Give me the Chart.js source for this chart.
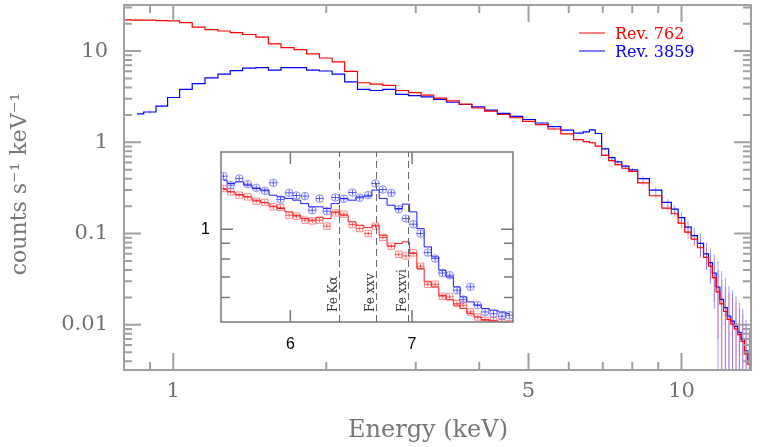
<!DOCTYPE html>
<html>
<head>
<meta charset="utf-8">
<script src="https://cdn.jsdelivr.net/npm/chart.js@4.4.0/dist/chart.umd.min.js"></script>
<style>
  html, body { margin: 0; padding: 0; background: #fff; }
  #wrap { position: relative; width: 760px; height: 447px; }
  #mainChart { position: absolute; left: 0; top: 0; }
  #insetChart { position: absolute; left: 190px; top: 145px; }
</style>
</head>
<body>
<div id="wrap">
  <canvas id="mainChart" width="760" height="447"></canvas>
  <canvas id="insetChart" width="330" height="215"></canvas>
</div>
<script>
// broad band spectrum, keV
const mainEnergy = [0.80, 0.85, 0.90, 0.95, 1.00, 1.06, 1.12, 1.19, 1.26, 1.33,
  1.41, 1.50, 1.58, 1.68, 1.78, 1.88, 2.00, 2.11, 2.24, 2.37,
  2.51, 2.66, 2.82, 2.99, 3.16, 3.35, 3.55, 3.76, 3.98, 4.22,
  4.47, 4.73, 5.01, 5.31, 5.62, 5.96, 6.31, 6.50, 6.68, 6.85,
  7.08, 7.30, 7.50, 7.76, 8.00, 8.40, 8.90, 9.40,
  9.7, 10.0, 10.3, 10.6, 10.9, 11.2, 11.4, 11.6, 11.8, 12.0,
  12.2, 12.4, 12.6, 12.8, 13.0, 13.2, 13.4, 13.6];

const rev762Flux = [22.0, 21.9, 21.8, 21.6, 21.4, 20.5, 18.3, 17.2, 16.6, 15.9,
  15.2, 14.2, 12.0, 10.9, 10.4, 9.3, 8.4, 7.6, 6.0, 4.5,
  4.35, 4.2, 3.7, 3.5, 3.3, 3.05, 2.85, 2.62, 2.38, 2.20,
  2.02, 1.86, 1.70, 1.56, 1.40, 1.24, 1.07, 1.02, 0.99, 0.91,
  0.72, 0.63, 0.57, 0.52, 0.48, 0.36, 0.26, 0.19,
  0.165, 0.13, 0.104, 0.087, 0.070, 0.055, 0.044, 0.033, 0.023, 0.017,
  0.014, 0.0115, 0.0102, 0.0090, 0.0078, 0.0066, 0.0048, 0.0037];
const rev762Err = [0.25, 0.2, 0.2, 0.2, 0.2, 0.2, 0.18, 0.17, 0.16, 0.15,
  0.15, 0.14, 0.12, 0.11, 0.1, 0.09, 0.08, 0.08, 0.06, 0.05,
  0.05, 0.04, 0.04, 0.04, 0.04, 0.035, 0.035, 0.03, 0.03, 0.03,
  0.03, 0.03, 0.03, 0.03, 0.03, 0.03, 0.03, 0.03, 0.03, 0.03,
  0.025, 0.025, 0.02, 0.02, 0.02, 0.02, 0.018, 0.016,
  0.015, 0.016, 0.016, 0.015, 0.016, 0.015, 0.014, 0.015, 0.016, 0.014,
  0.012, 0.011, 0.01, 0.0085, 0.0075, 0.0065, 0.005, 0.0045];

const rev3859Flux = [null, 2.05, 2.15, 2.5, 3.1, 3.8, 4.4, 5.1, 5.6, 6.1,
  6.5, 6.6, 6.2, 6.6, 6.6, 6.2, 6.05, 5.6, 4.6, 3.8,
  3.7, 3.8, 3.35, 3.25, 3.15, 2.95, 2.75, 2.6, 2.45, 2.25,
  2.08, 1.93, 1.78, 1.63, 1.49, 1.36, 1.26, 1.30, 1.37, 1.25,
  0.85, 0.68, 0.61, 0.55, 0.50, 0.40, 0.30, 0.22,
  0.185, 0.15, 0.118, 0.095, 0.078, 0.06, 0.048, 0.037, 0.026, 0.019,
  0.0155, 0.0125, 0.011, 0.0096, 0.0083, 0.007, 0.0052, 0.004];
const rev3859Err = [0, 0.08, 0.08, 0.08, 0.08, 0.09, 0.09, 0.09, 0.09, 0.09,
  0.09, 0.09, 0.09, 0.09, 0.09, 0.08, 0.08, 0.08, 0.07, 0.06,
  0.06, 0.05, 0.05, 0.05, 0.05, 0.04, 0.04, 0.04, 0.04, 0.04,
  0.035, 0.035, 0.035, 0.035, 0.035, 0.035, 0.035, 0.035, 0.035, 0.035,
  0.03, 0.03, 0.025, 0.025, 0.025, 0.025, 0.022, 0.02,
  0.02, 0.022, 0.02, 0.02, 0.022, 0.02, 0.02, 0.022, 0.024, 0.02,
  0.017, 0.014, 0.013, 0.011, 0.009, 0.008, 0.006, 0.005];

// iron line region (inset)
const insetEnergy = [5.45, 5.51, 5.58, 5.65, 5.72, 5.79, 5.86, 5.92, 5.99, 6.05,
  6.12, 6.18, 6.24, 6.30, 6.37, 6.44, 6.51, 6.57, 6.64, 6.70,
  6.76, 6.83, 6.89, 6.95, 7.01, 7.07, 7.13, 7.19, 7.25, 7.31,
  7.37, 7.42, 7.48, 7.54, 7.60, 7.67, 7.74, 7.80];
const rev3859InsetData = [1.486, 1.390, 1.461, 1.400, 1.362, 1.332, 1.414, 1.248, 1.312, 1.286,
  1.280, 1.152, 1.258, 1.144, 1.267, 1.255, 1.315, 1.264, 1.289, 1.407,
  1.345, 1.312, 1.161, 1.083, 1.038, 0.968, 0.840, 0.803, 0.721, 0.709,
  0.634, 0.591, 0.650, 0.567, 0.539, 0.532, 0.522, 0.526];
const rev3859InsetModel = [1.442, 1.407, 1.424, 1.390, 1.355, 1.339, 1.289, 1.273, 1.258, 1.242,
  1.211, 1.182, 1.182, 1.167, 1.211, 1.258, 1.242, 1.273, 1.280, 1.339,
  1.258, 1.196, 1.167, 1.206, 1.138, 1.005, 0.876, 0.813, 0.736, 0.700,
  0.650, 0.603, 0.581, 0.567, 0.553, 0.546, 0.539, 0.532];
const rev762InsetData = [1.355, 1.322, 1.289, 1.273, 1.233, 1.221, 1.182, 1.176, 1.110, 1.102,
  1.070, 1.064, 1.070, 1.023, 1.130, 1.119, 1.035, 1.005, 0.968, 1.023,
  0.940, 0.881, 0.829, 0.819, 0.838, 0.758, 0.663, 0.663, 0.606, 0.603,
  0.574, 0.567, 0.539, 0.519, 0.506, 0.506, 0.500, 0.494];
const rev762InsetModel = [1.345, 1.322, 1.296, 1.273, 1.242, 1.218, 1.188, 1.167, 1.138, 1.110,
  1.083, 1.070, 1.091, 1.083, 1.138, 1.110, 1.056, 1.030, 1.012, 1.030,
  0.956, 0.881, 0.899, 0.910, 0.834, 0.745, 0.675, 0.650, 0.610, 0.591,
  0.567, 0.553, 0.532, 0.519, 0.509, 0.504, 0.497, 0.494];
const insetHalfBin = 0.033;
const insetRelErr = 0.022;

const lineEnergies = [6.4, 6.7, 6.97];
const lineLabels = ['Fe Kα', 'Fe xxv', 'Fe xxvi'];

// ticks
const xLabelValues = [1, 5, 10];
const xMinorTicks = [0.9, 2, 3, 4, 6, 7, 8, 9];
const yLabelValues = [0.01, 0.1, 1, 10];
const yMinorTicks = [0.004, 0.005, 0.006, 0.007, 0.008, 0.009,
  0.02, 0.03, 0.04, 0.05, 0.06, 0.07, 0.08, 0.09,
  0.2, 0.3, 0.4, 0.5, 0.6, 0.7, 0.8, 0.9,
  2, 3, 4, 5, 6, 7, 8, 9, 20, 30];
const insetXTicks = [6, 7];
const insetYLabels = [1];
const insetYMinor = [0.6, 0.7, 0.8, 0.9];

const RED = '#ff0000';
const BLUE = '#0000ff';
const SERIF = '"DejaVu Serif", serif';
const SANS = '"Liberation Sans", sans-serif';

function pairs(xs, ys) {
  return xs.map((x, i) => ({ x: x, y: ys[i] }));
}

// frame with inward ticks on all four sides
const frameTicks = {
  id: 'frameTicks',
  afterDatasetsDraw(chart, args, o) {
    const { ctx, chartArea: a, scales: { x, y } } = chart;
    ctx.save();
    ctx.strokeStyle = o.color;
    ctx.lineWidth = o.width;
    ctx.beginPath();
    const xt = (list, len) => list.forEach(v => {
      const px = x.getPixelForValue(v);
      ctx.moveTo(px, a.bottom); ctx.lineTo(px, a.bottom - len);
      ctx.moveTo(px, a.top); ctx.lineTo(px, a.top + len);
    });
    const yt = (list, len) => list.forEach(v => {
      const py = y.getPixelForValue(v);
      ctx.moveTo(a.left, py); ctx.lineTo(a.left + len, py);
      ctx.moveTo(a.right, py); ctx.lineTo(a.right - len, py);
    });
    xt(o.xMajor, o.majorLen); xt(o.xMinor, o.minorLen);
    yt(o.yMajor, o.majorLen); yt(o.yMinor, o.minorLen);
    ctx.stroke();
    ctx.strokeRect(a.left, a.top, a.right - a.left, a.bottom - a.top);
    ctx.restore();
  }
};

// error crosses from dataset.yErr / relErr / xHalf
const errorBars = {
  id: 'errorBars',
  beforeDatasetsDraw(chart) {
    const { ctx, chartArea: a, scales: { x, y } } = chart;
    ctx.save();
    ctx.beginPath();
    ctx.rect(a.left, a.top, a.right - a.left, a.bottom - a.top);
    ctx.clip();
    chart.data.datasets.forEach(ds => {
      if (!ds.yErr && !ds.relErr) return;
      ctx.strokeStyle = ds.errColor;
      ctx.lineWidth = 1;
      ctx.beginPath();
      ds.data.forEach((p, i) => {
        if (p.y == null) return;
        const err = ds.yErr ? ds.yErr[i] : p.y * ds.relErr;
        const px = x.getPixelForValue(p.x);
        const lo = p.y - err;
        const yLo = lo > 0 ? y.getPixelForValue(lo) : a.bottom;
        const yHi = y.getPixelForValue(p.y + err);
        ctx.moveTo(px, yLo); ctx.lineTo(px, yHi);
        if (ds.xHalf) {
          const py = y.getPixelForValue(p.y);
          ctx.moveTo(x.getPixelForValue(p.x - ds.xHalf), py);
          ctx.lineTo(x.getPixelForValue(p.x + ds.xHalf), py);
        }
      });
      ctx.stroke();
    });
    ctx.restore();
  }
};

const legendBox = {
  id: 'legendBox',
  afterDraw(chart, args, o) {
    const { ctx, chartArea: a } = chart;
    ctx.save();
    ctx.font = o.font;
    ctx.textBaseline = 'middle';
    chart.data.datasets.forEach((ds, i) => {
      const y = a.top + o.top + i * o.rowGap;
      const x0 = a.right - o.right;
      ctx.strokeStyle = ds.borderColor;
      ctx.lineWidth = 1;
      ctx.beginPath();
      ctx.moveTo(x0, y); ctx.lineTo(x0 + o.lineLen, y);
      ctx.stroke();
      ctx.fillStyle = ds.borderColor;
      ctx.fillText(ds.label, x0 + o.lineLen + o.gap, y + 2);
    });
    ctx.restore();
  }
};

const axisTitles = {
  id: 'axisTitles',
  afterDraw(chart, args, o) {
    const ctx = chart.ctx;
    ctx.save();
    ctx.fillStyle = o.color;
    ctx.textAlign = 'center';
    ctx.font = o.xFont;
    ctx.textBaseline = 'middle';
    ctx.fillText(o.xText, o.xPos[0], o.xPos[1]);
    ctx.font = o.yFont;
    ctx.textBaseline = 'alphabetic';
    ctx.translate(o.yPos[0], o.yPos[1]);
    ctx.rotate(-Math.PI / 2);
    ctx.fillText(o.yText, 0, 0);
    ctx.restore();
  }
};

const whiteArea = {
  id: 'whiteArea',
  beforeDraw(chart) {
    const { ctx, chartArea: a } = chart;
    ctx.save();
    ctx.fillStyle = '#fff';
    ctx.fillRect(a.left, a.top, a.right - a.left, a.bottom - a.top);
    ctx.restore();
  }
};

const lineMarks = {
  id: 'lineMarks',
  afterDatasetsDraw(chart, args, o) {
    const { ctx, chartArea: a, scales: { x } } = chart;
    ctx.save();
    ctx.strokeStyle = o.color;
    ctx.lineWidth = 1;
    ctx.setLineDash([7, 4]);
    o.energies.forEach((e, i) => {
      const px = Math.round(x.getPixelForValue(e)) + 0.5;
      ctx.beginPath();
      ctx.moveTo(px, a.bottom); ctx.lineTo(px, a.top);
      ctx.stroke();
      ctx.save();
      ctx.translate(px - 3, a.bottom - 10);
      ctx.rotate(-Math.PI / 2);
      ctx.fillStyle = o.textColor;
      ctx.font = o.font;
      ctx.textAlign = 'left';
      ctx.textBaseline = 'alphabetic';
      ctx.fillText(o.labels[i], 0, 0);
      ctx.restore();
    });
    ctx.restore();
  }
};

// the frame is drawn by frameTicks, so drop the label-based padding
function fixWidth(w) {
  return s => { s.width = w; s.paddingTop = 0; s.paddingBottom = 0; };
}
function fixHeight(h) {
  return s => { s.height = h; s.paddingLeft = 0; s.paddingRight = 0; };
}

const mainChart = new Chart(document.getElementById('mainChart'), {
  type: 'line',
  data: {
    datasets: [
      {
        label: 'Rev. 762', data: pairs(mainEnergy, rev762Flux), yErr: rev762Err,
        borderColor: RED, errColor: 'rgba(255,80,80,0.55)', borderWidth: 1.2,
        pointRadius: 0, stepped: 'middle', fill: false
      },
      {
        label: 'Rev. 3859', data: pairs(mainEnergy, rev3859Flux), yErr: rev3859Err,
        borderColor: BLUE, errColor: 'rgba(80,80,255,0.55)', borderWidth: 1.2,
        pointRadius: 0, stepped: 'middle', fill: false, spanGaps: false
      }
    ]
  },
  options: {
    responsive: false,
    animation: false,
    devicePixelRatio: 1,
    layout: { padding: { top: 5, right: 9, left: 0, bottom: 0 } },
    plugins: {
      legend: { display: false },
      tooltip: { enabled: false },
      frameTicks: {
        color: '#a0a0a0', width: 2, majorLen: 17, minorLen: 8,
        xMajor: xLabelValues, xMinor: xMinorTicks, yMajor: yLabelValues, yMinor: yMinorTicks
      },
      legendBox: { font: '16px ' + SERIF, top: 28, rowGap: 18, right: 172, lineLen: 26, gap: 10 },
      axisTitles: {
        color: '#777', xText: 'Energy (keV)', xFont: '24px ' + SERIF, xPos: [428, 431],
        yText: 'counts s⁻¹ keV⁻¹', yFont: '22px ' + SERIF, yPos: [26, 184]
      }
    },
    scales: {
      x: {
        type: 'logarithmic', min: 0.8, max: 13.7,
        grid: { display: false, drawTicks: false }, border: { display: false },
        afterBuildTicks: s => { s.ticks = xLabelValues.map(v => ({ value: v })); },
        afterFit: fixHeight(77),
        ticks: {
          color: '#707070', font: { family: SERIF, size: 21 }, padding: 9,
          maxRotation: 0, autoSkip: false, callback: v => String(v)
        }
      },
      y: {
        type: 'logarithmic', min: 0.0032, max: 32,
        grid: { display: false, drawTicks: false }, border: { display: false },
        afterBuildTicks: s => { s.ticks = yLabelValues.map(v => ({ value: v })); },
        afterFit: fixWidth(124),
        ticks: {
          color: '#707070', font: { family: SERIF, size: 21 }, padding: 16,
          autoSkip: false, callback: v => String(v)
        }
      }
    }
  },
  plugins: [errorBars, frameTicks, legendBox, axisTitles]
});

const insetChart = new Chart(document.getElementById('insetChart'), {
  type: 'line',
  data: {
    datasets: [
      {
        label: 'Rev. 3859 data', data: pairs(insetEnergy, rev3859InsetData), showLine: false,
        relErr: insetRelErr, xHalf: insetHalfBin, errColor: 'rgba(40,40,255,0.75)',
        pointStyle: 'circle', pointRadius: 3.8, pointBorderWidth: 1,
        pointBorderColor: 'rgba(60,60,255,0.6)', pointBackgroundColor: 'rgba(0,0,0,0)'
      },
      {
        label: 'Rev. 762 data', data: pairs(insetEnergy, rev762InsetData), showLine: false,
        relErr: insetRelErr * 0.7, xHalf: insetHalfBin, errColor: 'rgba(255,40,40,0.75)',
        pointStyle: 'rect', pointRadius: 4.5, pointBorderWidth: 1,
        pointBorderColor: 'rgba(255,60,60,0.6)', pointBackgroundColor: 'rgba(0,0,0,0)'
      },
      {
        label: 'Rev. 3859 model', data: pairs(insetEnergy, rev3859InsetModel),
        borderColor: '#1a1aff', borderWidth: 1, pointRadius: 0, stepped: 'middle'
      },
      {
        label: 'Rev. 762 model', data: pairs(insetEnergy, rev762InsetModel),
        borderColor: '#ff1a1a', borderWidth: 1, pointRadius: 0, stepped: 'middle'
      }
    ]
  },
  options: {
    responsive: false,
    animation: false,
    devicePixelRatio: 1,
    layout: { padding: { top: 7, right: 7, left: 0, bottom: 0 } },
    plugins: {
      legend: { display: false },
      tooltip: { enabled: false },
      frameTicks: {
        color: '#777', width: 1.5, majorLen: 12, minorLen: 9,
        xMajor: insetXTicks, xMinor: [], yMajor: insetYLabels, yMinor: insetYMinor
      },
      lineMarks: {
        energies: lineEnergies, labels: lineLabels, color: '#666',
        textColor: '#333', font: '12px ' + SERIF
      }
    },
    scales: {
      x: {
        type: 'linear', min: 5.43, max: 7.83,
        grid: { display: false, drawTicks: false }, border: { display: false },
        afterBuildTicks: s => { s.ticks = insetXTicks.map(v => ({ value: v })); },
        afterFit: fixHeight(38),
        ticks: {
          color: '#000', font: { family: SANS, size: 16 }, padding: 13,
          maxRotation: 0, autoSkip: false, callback: v => String(v)
        }
      },
      y: {
        type: 'logarithmic', min: 0.5, max: 1.78,
        grid: { display: false, drawTicks: false }, border: { display: false },
        afterBuildTicks: s => { s.ticks = insetYLabels.map(v => ({ value: v })); },
        afterFit: fixWidth(31),
        ticks: {
          color: '#000', font: { family: SANS, size: 16 }, padding: 11,
          autoSkip: false, callback: v => String(v)
        }
      }
    }
  },
  plugins: [whiteArea, errorBars, lineMarks, frameTicks]
});
</script>
</body>
</html>
